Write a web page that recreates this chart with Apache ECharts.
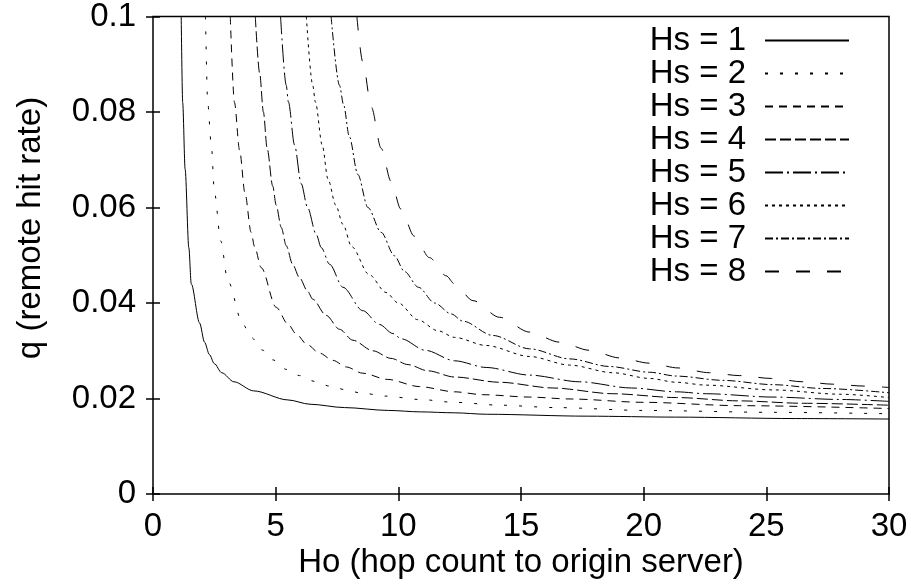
<!DOCTYPE html>
<html>
<head>
<meta charset="utf-8">
<title>Remote hit rate vs hop count</title>
<script src="https://cdn.jsdelivr.net/npm/echarts@6/dist/echarts.min.js"></script>
<style>
  html, body { margin: 0; padding: 0; background: #fff; }
  #chart { width: 911px; height: 586px; }
</style>
</head>
<body>
<div id="chart"></div>
<script>
// Tick labels
const xTickLabels = ['0', '5', '10', '15', '20', '25', '30'];
const yTickLabels = ['0', '0.02', '0.04', '0.06', '0.08', '0.1'];

// Series names
const seriesNames = ['Hs = 1', 'Hs = 2', 'Hs = 3', 'Hs = 4', 'Hs = 5', 'Hs = 6', 'Hs = 7', 'Hs = 8'];

// [Ho, q] pairs for each Hs
const hs1 = [[1.15,0.1],[1.21,0.082],[1.31,0.068],[1.46,0.0516],[1.56,0.044],[1.9,0.0358],[2.1,0.0318],[2.3,0.0292],[2.5,0.0273],[2.8,0.0254],[3.3,0.0235],[4.1,0.0216],[5.5,0.0197],[6.4,0.0188],[7.8,0.0181],[9.6,0.0175],[10.9,0.0172],[12.3,0.017],[13.6,0.0167],[17.7,0.0163],[21.3,0.0161],[26.2,0.0158],[30,0.0157]];
const hs2 = [[2.14,0.1],[2.23,0.082],[2.37,0.0735],[2.51,0.063],[2.76,0.053],[3.05,0.0446],[3.66,0.0356],[4.0,0.0328],[4.48,0.0301],[4.88,0.0281],[5.43,0.0261],[5.97,0.0248],[6.58,0.0236],[7.2,0.0226],[7.88,0.0218],[8.42,0.0212],[9.5,0.0205],[10.86,0.0198],[12.29,0.0192],[14.13,0.0186],[16.4,0.0181],[20,0.0175],[25.3,0.0171],[30,0.0168]];
const hs3 = [[3.15,0.1],[3.32,0.082],[3.53,0.072],[3.75,0.063],[4.0,0.0548],[4.14,0.0518],[4.41,0.0474],[5.02,0.0391],[5.5,0.0356],[5.84,0.0335],[6.28,0.0313],[6.79,0.0295],[7.33,0.028],[7.88,0.0266],[8.55,0.0253],[9.55,0.024],[10.86,0.0225],[12.29,0.0214],[13.44,0.0208],[15.34,0.0203],[17,0.0199],[20,0.0192],[23.9,0.0185],[30,0.0179]];
const hs4 = [[4.17,0.1],[4.35,0.088],[4.5,0.08],[4.65,0.0725],[4.88,0.0645],[5.02,0.0605],[5.23,0.0558],[5.43,0.052],[5.7,0.048],[5.97,0.0453],[6.31,0.0424],[6.51,0.0408],[7.06,0.0374],[7.6,0.0345],[8.15,0.0322],[8.96,0.03],[9.7,0.0284],[10.4,0.0271],[11.2,0.0258],[12.29,0.0245],[14.13,0.0234],[16.3,0.0222],[18.74,0.021],[21.33,0.0202],[23.9,0.0195],[26.5,0.019],[30,0.0186]];
const hs5 = [[5.2,0.1],[5.43,0.0856],[5.52,0.0821],[5.77,0.0731],[6.04,0.065],[6.3,0.06],[6.65,0.0544],[6.86,0.0516],[7.2,0.0481],[7.74,0.0433],[8.55,0.0384],[9.23,0.0355],[9.78,0.0336],[10.12,0.0325],[11.1,0.0301],[12.29,0.0279],[13.58,0.0265],[15.35,0.0249],[17.39,0.0235],[19.5,0.0222],[21.33,0.0214],[22.55,0.021],[25.27,0.0203],[27.99,0.0198],[30,0.0194]];
const hs6 = [[6.25,0.1],[6.51,0.0856],[6.62,0.0821],[6.9,0.073],[7.13,0.066],[7.45,0.0605],[7.74,0.0565],[8.1,0.0518],[8.8,0.046],[9.5,0.0422],[10.0,0.04],[10.79,0.0365],[11.61,0.0342],[12.29,0.0328],[13.58,0.0311],[15.35,0.0288],[16.98,0.027],[18.74,0.0254],[20.24,0.0242],[21.33,0.0234],[22.55,0.0228],[25.27,0.0218],[27.99,0.0209],[30,0.0202]];
const hs7 = [[7.26,0.1],[7.6,0.0856],[7.77,0.0815],[8.0,0.0749],[8.35,0.0669],[8.76,0.06],[9.3,0.0548],[9.84,0.0499],[10.25,0.0466],[10.82,0.0433],[11.48,0.04],[12.16,0.0377],[12.63,0.0362],[13.85,0.0332],[15.35,0.0304],[16.98,0.0283],[18.61,0.0267],[20.24,0.0255],[21.33,0.0247],[23.23,0.0238],[25.27,0.0229],[27.3,0.0221],[30,0.0212]];
const hs8 = [[8.31,0.1],[8.55,0.0905],[8.9,0.081],[9.3,0.0724],[9.7,0.0655],[10.1,0.0597],[10.65,0.054],[11.27,0.0495],[11.95,0.0457],[12.29,0.044],[13.04,0.0405],[14.13,0.037],[15.35,0.0339],[16.57,0.0318],[17.79,0.0301],[19.02,0.0285],[20.24,0.0274],[21.4,0.0264],[22.68,0.0254],[23.9,0.0248],[25.2,0.0242],[26.49,0.0235],[27.71,0.023],[29.0,0.0226],[30,0.0223]];

const curves = [hs1, hs2, hs3, hs4, hs5, hs6, hs7, hs8];

// Dash pattern per curve, in the style of gnuplot line types
const dashes = [
  'solid',
  [3, 12],
  [8, 6],
  [11, 4],
  [18, 4, 2, 4],
  [3, 4],
  [8, 3, 2, 3],
  [14, 17]
];

const FONT = "'Liberation Sans', Arial, Helvetica, sans-serif";
const INK = '#000';
const NONE = 'rgba(0,0,0,0)';

const chart = echarts.init(document.getElementById('chart'), null, { renderer: 'canvas' });

const tickStyle = { inside: true, length: 7, lineStyle: { color: INK, width: 1.5 } };

const option = {
  animation: false,
  backgroundColor: '#fff',
  grid: {
    left: 153, right: 22, top: 15, bottom: 92,
    show: true, borderColor: INK, borderWidth: 1.5, backgroundColor: 'transparent'
  },
  xAxis: [
    {
      type: 'value', min: 0, max: 30, interval: 5, position: 'bottom',
      axisLine: { show: false }, splitLine: { show: false },
      axisTick: tickStyle,
      axisLabel: {
        margin: 16, fontSize: 33, color: INK, fontFamily: FONT,
        formatter: v => xTickLabels[Math.round(v / 5)]
      }
    },
    {
      type: 'value', min: 0, max: 30, interval: 5, position: 'top',
      axisLine: { show: false }, splitLine: { show: false },
      axisTick: tickStyle, axisLabel: { show: false }
    }
  ],
  yAxis: [
    {
      type: 'value', min: 0, max: 0.1, interval: 0.02, position: 'left',
      axisLine: { show: false }, splitLine: { show: false },
      axisTick: tickStyle,
      axisLabel: {
        margin: 17, fontSize: 33, color: INK, fontFamily: FONT,
        formatter: v => yTickLabels[Math.round(v / 0.02)]
      }
    },
    {
      type: 'value', min: 0, max: 0.1, interval: 0.02, position: 'right',
      axisLine: { show: false }, splitLine: { show: false },
      axisTick: tickStyle, axisLabel: { show: false }
    }
  ],
  legend: {
    orient: 'vertical', right: 61, top: 24, align: 'right',
    padding: 0, itemGap: 0, itemWidth: 84, itemHeight: 14,
    selectedMode: false,
    itemStyle: { color: NONE, borderColor: NONE, borderWidth: 0 },
    textStyle: { fontSize: 33, lineHeight: 33, color: INK, fontFamily: FONT, padding: [0, 14, 0, 0] },
    data: seriesNames
  },
  graphic: [
    {
      type: 'text', x: 31, y: 228, rotation: Math.PI / 2,
      style: {
        text: 'q (remote hit rate)', fontSize: 33, fontFamily: FONT, fill: INK,
        textAlign: 'center', textVerticalAlign: 'middle'
      }
    },
    {
      type: 'text', x: 521, y: 563,
      style: {
        text: 'Ho (hop count to origin server)', fontSize: 33, fontFamily: FONT, fill: INK,
        textAlign: 'center', textVerticalAlign: 'middle'
      }
    }
  ],
  series: curves.map((data, i) => ({
    name: seriesNames[i],
    type: 'line',
    xAxisIndex: 0, yAxisIndex: 0,
    data: data,
    symbol: 'none', showSymbol: false,
    smooth: 0.3, smoothMonotone: 'x',
    clip: true,
    itemStyle: { color: NONE },
    lineStyle: { color: INK, width: 1, type: dashes[i] },
    emphasis: { disabled: true }
  }))
};

chart.setOption(option);
</script>
</body>
</html>
